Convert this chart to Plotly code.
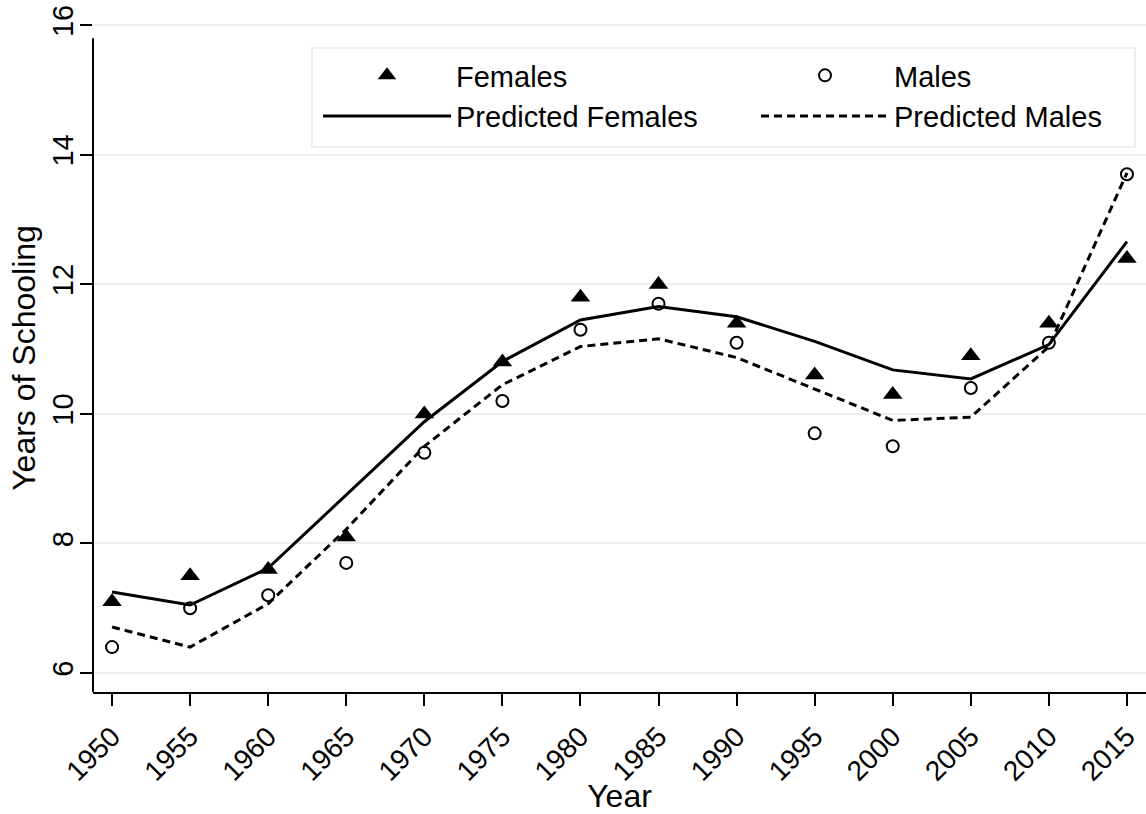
import plotly.graph_objects as go

years = [1950, 1955, 1960, 1965, 1970, 1975, 1980, 1985, 1990, 1995, 2000, 2005, 2010, 2015]
females = [7.1, 7.5, 7.6, 8.1, 10.0, 10.8, 11.8, 12.0, 11.4, 10.6, 10.3, 10.9, 11.4, 12.4]
males = [6.4, 7.0, 7.2, 7.7, 9.4, 10.2, 11.3, 11.7, 11.1, 9.7, 9.5, 10.4, 11.1, 13.7]
pred_females = [7.25, 7.05, 7.62, 8.75, 9.88, 10.81, 11.45, 11.66, 11.50, 11.12, 10.68, 10.54, 11.07, 12.66]
pred_males = [6.71, 6.40, 7.07, 8.22, 9.50, 10.45, 11.04, 11.16, 10.87, 10.38, 9.90, 9.95, 11.04, 13.72]
y_ticks = [6, 8, 10, 12, 14, 16]

FONT = "Liberation Sans, Arial, sans-serif"
GRID = "#E9F0F2"

fig = go.Figure()
fig.add_trace(go.Scatter(x=years, y=pred_females, mode="lines", name="Predicted Females",
                         line=dict(color="black", width=3), legend="legend"))
fig.add_trace(go.Scatter(x=years, y=pred_males, mode="lines", name="Predicted Males",
                         line=dict(color="black", width=3, dash="8px,5px"), legend="legend2"))
fig.add_trace(go.Scatter(x=years, y=females, mode="markers", name="Females",
                         marker=dict(symbol="triangle-up", size=17, color="black"), legend="legend"))
fig.add_trace(go.Scatter(x=years, y=males, mode="markers", name="Males",
                         marker=dict(symbol="circle-open", size=12, color="black", line=dict(width=2)),
                         legend="legend2"))

# legend frame
fig.add_shape(type="rect", xref="paper", yref="paper",
              x0=(312 - 93) / 1053, x1=(1135 - 93) / 1053,
              y0=(692 - 147) / 668, y1=(692 - 48) / 668,
              line=dict(color=GRID, width=2), fillcolor="white", layer="below")
# y axis line (shorter than plot region, like the original)
fig.add_shape(type="line", xref="paper", yref="y", x0=0, x1=0, y0=5.707, y1=15.8,
              line=dict(color="black", width=2))

leg_common = dict(font=dict(family=FONT, size=29, color="black"), bgcolor="rgba(0,0,0,0)",
                  borderwidth=0, itemwidth=128, traceorder="reversed",
                  yanchor="top", xanchor="left", y=(692 - 50) / 668)
fig.update_layout(
    width=1146, height=814,
    margin=dict(l=93, r=0, t=24, b=122),
    paper_bgcolor="white", plot_bgcolor="white",
    font=dict(family=FONT, color="black"),
    legend=dict(x=(318 - 93) / 1053, **leg_common),
    legend2=dict(x=(756 - 93) / 1053, **leg_common),
    showlegend=True,
)
fig.update_xaxes(
    range=[1948.78, 2016.22], tickmode="array", tickvals=years,
    ticktext=[str(y) for y in years], tickangle=-45,
    tickfont=dict(family=FONT, size=28, color="black"),
    ticks="outside", ticklen=12, tickwidth=2, tickcolor="black",
    ticklabelstandoff=3,
    showline=True, linecolor="black", linewidth=2, showgrid=False, zeroline=False,
    title=dict(text="Year", font=dict(family=FONT, size=32, color="black"), standoff=0),
)
fig.update_yaxes(
    range=[5.707, 16.02], tickmode="array", tickvals=y_ticks,
    ticktext=[str(v) for v in y_ticks], tickangle=-90,
    tickfont=dict(family=FONT, size=29, color="black"),
    ticks="outside", ticklen=12, tickwidth=2, tickcolor="black",
    ticklabelstandoff=-5,
    showline=False, showgrid=True, gridcolor=GRID, gridwidth=2, zeroline=False,
    title=dict(text="Years of Schooling", font=dict(family=FONT, size=32, color="black"), standoff=2),
)
fig.write_html("out.html", config={"displayModeBar": False},
               post_script="document.body.style.margin='0';")
